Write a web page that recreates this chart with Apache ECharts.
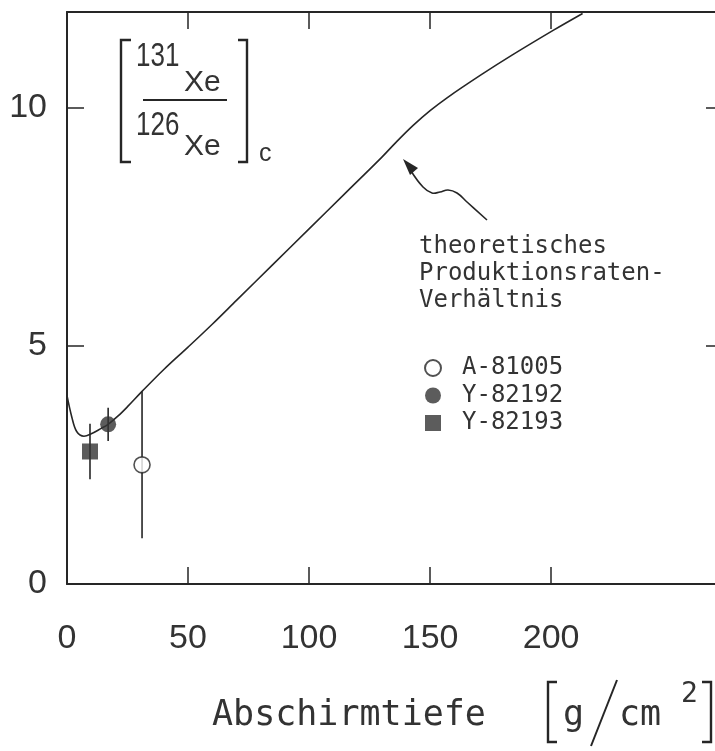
<!DOCTYPE html>
<html><head><meta charset="utf-8">
<script src="https://cdn.jsdelivr.net/npm/echarts@6/dist/echarts.min.js"></script>
<style>html,body{margin:0;padding:0;background:#fff}#c{width:715px;height:751px}</style>
</head><body><div id="c"></div>
<script>
// theoretical production-rate ratio curve
const curveX = [0, 2, 4, 7, 10, 14, 17, 21, 25, 31, 40, 50, 60, 70, 85, 100, 115, 130, 136, 143, 150, 157, 171, 184, 201, 213];
const curveY = [3.95, 3.5, 3.2, 3.1, 3.15, 3.26, 3.35, 3.52, 3.72, 4.04, 4.5, 4.97, 5.45, 5.95, 6.7, 7.45, 8.2, 8.95, 9.27, 9.62, 9.93, 10.2, 10.68, 11.1, 11.62, 11.97];
// measured samples
const sampleNames = ['A-81005', 'Y-82192', 'Y-82193'];
const sampleX = [31, 17, 9.5];
const sampleY = [2.5, 3.35, 2.78];
const sampleLow = [0.96, 3.0, 2.2];
const sampleHigh = [4.04, 3.7, 3.36];
// ticks
const xTickValues = [50, 100, 150, 200];
const xLabelValues = [0, 50, 100, 150, 200];
const yTickValues = [5, 10];
const yLabelValues = [0, 5, 10];

const INK = '#262626';
const chart = echarts.init(document.getElementById('c'), null, {renderer: 'canvas'});

const axisCommon = {
  type: 'value',
  axisLine: {show: true, onZero: false, lineStyle: {color: INK, width: 2}},
  splitLine: {show: false}
};

const sampleStyles = [
  {symbol: 'circle', itemStyle: {color: '#fff', borderColor: INK, borderWidth: 1.6}},
  {symbol: 'circle', itemStyle: {color: '#333'}},
  {symbol: 'rect', itemStyle: {color: '#333'}}
];

const series = [{
  type: 'line',
  data: curveX.map((x, i) => [x, curveY[i]]),
  smooth: 0.35,
  symbol: 'none',
  silent: true,
  lineStyle: {color: INK, width: 1.6},
  z: 2
}];
sampleNames.forEach((n, i) => {
  series.push({
    type: 'line',
    data: [[sampleX[i], sampleLow[i]], [sampleX[i], sampleHigh[i]]],
    symbol: 'none', silent: true,
    lineStyle: {color: INK, width: 1.6},
    z: 3
  });
});
sampleNames.forEach((n, i) => {
  series.push(Object.assign({
    name: n,
    type: 'scatter',
    data: [[sampleX[i], sampleY[i]]],
    symbolSize: 16,
    z: 5
  }, sampleStyles[i]));
});

const numFont = 'Liberation Sans';
const monoFont = 'DejaVu Sans Mono';

const option = {
  animation: false,
  backgroundColor: '#fff',
  grid: {left: 67, top: 12, width: 656, height: 572, containLabel: false, outerBoundsMode: 'none'},
  xAxis: [
    Object.assign({}, axisCommon, {
      position: 'bottom', min: 0, max: 271, interval: 50,
      axisTick: {show: true, inside: true, length: 17, customValues: xTickValues, lineStyle: {color: INK, width: 1.5}},
      axisLabel: {show: true, customValues: xLabelValues, margin: 38, fontFamily: numFont, fontSize: 34, color: '#333'}
    }),
    Object.assign({}, axisCommon, {
      position: 'top', min: 0, max: 271, interval: 50,
      axisTick: {show: true, inside: true, length: 17, customValues: xTickValues, lineStyle: {color: INK, width: 1.5}},
      axisLabel: {show: false}
    })
  ],
  yAxis: [
    Object.assign({}, axisCommon, {
      position: 'left', min: 0, max: 12, interval: 5,
      axisTick: {show: true, inside: true, length: 17, customValues: yTickValues, lineStyle: {color: INK, width: 1.5}},
      axisLabel: {show: true, customValues: yLabelValues, margin: 20, fontFamily: numFont, fontSize: 34, color: '#333'}
    }),
    Object.assign({}, axisCommon, {
      position: 'right', min: 0, max: 12, interval: 5,
      axisTick: {show: true, inside: true, length: 17, customValues: yTickValues, lineStyle: {color: INK, width: 1.5}},
      axisLabel: {show: false}
    })
  ],
  legend: {
    data: sampleNames,
    orient: 'vertical',
    left: 419, top: 351,
    itemWidth: 16, itemHeight: 16, itemGap: 3.5,
    selectedMode: false,
    textStyle: {fontFamily: monoFont, fontSize: 24, lineHeight: 24, color: '#333', padding: [0, 0, 0, 16]}
  },
  series: series,
  graphic: [
    // y quantity label: [131Xe / 126Xe]_c
    {type: 'polyline', shape: {points: [[131, 40], [121, 40], [121, 162], [131, 162]]}, style: {stroke: INK, lineWidth: 2.4, fill: null}},
    {type: 'polyline', shape: {points: [[238, 40], [247, 40], [247, 162], [238, 162]]}, style: {stroke: INK, lineWidth: 2.4, fill: null}},
    {type: 'line', shape: {x1: 143, y1: 100, x2: 227, y2: 100}, style: {stroke: INK, lineWidth: 2}},
    {type: 'text', x: 136, y: 56.5, scaleY: 1.3, style: {text: '131', font: '26px "Liberation Sans"', fill: '#333', verticalAlign: 'middle'}},
    {type: 'text', x: 136, y: 126, scaleY: 1.3, style: {text: '126', font: '26px "Liberation Sans"', fill: '#333', verticalAlign: 'middle'}},
    {type: 'text', x: 184, y: 82.5, style: {text: 'Xe', font: '30px "Liberation Sans"', fill: '#333', verticalAlign: 'middle'}},
    {type: 'text', x: 184, y: 147, style: {text: 'Xe', font: '30px "Liberation Sans"', fill: '#333', verticalAlign: 'middle'}},
    {type: 'text', x: 259, y: 154.5, style: {text: 'c', font: '25px "Liberation Sans"', fill: '#333', verticalAlign: 'middle'}},
    // annotation
    {type: 'text', x: 419, y: 247, style: {text: 'theoretisches', font: '24px "DejaVu Sans Mono"', fill: '#333', verticalAlign: 'middle'}},
    {type: 'text', x: 419, y: 274, style: {text: 'Produktionsraten-', font: '24px "DejaVu Sans Mono"', fill: '#333', verticalAlign: 'middle'}},
    {type: 'text', x: 419, y: 301, style: {text: 'Verhältnis', font: '24px "DejaVu Sans Mono"', fill: '#333', verticalAlign: 'middle'}},
    // wavy arrow
    {type: 'polyline', shape: {smooth: 0.4, points: [[487, 220], [467, 202], [457, 193], [448, 190], [440, 192], [432, 193], [423, 187], [411, 171]]}, style: {stroke: INK, lineWidth: 1.6, fill: null}},
    {type: 'polygon', shape: {points: [[403, 159], [418, 168], [410, 175]]}, style: {fill: INK}},
    // x axis title
    {type: 'text', x: 212, y: 716, style: {text: 'Abschirmtiefe', font: '35px "DejaVu Sans Mono"', fill: '#333', verticalAlign: 'middle'}},
    {type: 'polyline', shape: {points: [[557, 682], [548, 682], [548, 742], [557, 742]]}, style: {stroke: INK, lineWidth: 2.4, fill: null}},
    {type: 'polyline', shape: {points: [[702, 682], [711, 682], [711, 742], [702, 742]]}, style: {stroke: INK, lineWidth: 2.4, fill: null}},
    {type: 'text', x: 563, y: 716, style: {text: 'g', font: '35px "DejaVu Sans Mono"', fill: '#333', verticalAlign: 'middle'}},
    {type: 'line', shape: {x1: 591, y1: 746, x2: 617, y2: 680}, style: {stroke: INK, lineWidth: 2}},
    {type: 'text', x: 619, y: 716, style: {text: 'cm', font: '35px "DejaVu Sans Mono"', fill: '#333', verticalAlign: 'middle'}},
    {type: 'text', x: 681, y: 695, style: {text: '2', font: '28px "DejaVu Sans Mono"', fill: '#333', verticalAlign: 'middle'}}
  ]
};
chart.setOption(option);
</script></body></html>
